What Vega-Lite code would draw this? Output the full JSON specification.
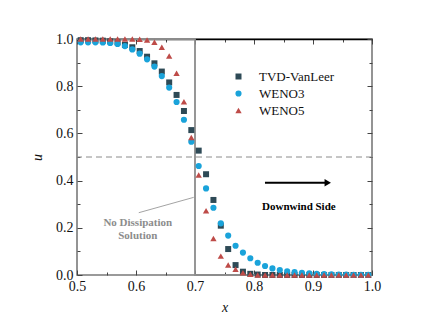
{
  "$schema": "https://vega.github.io/schema/vega-lite/v6.json",
  "width": 295,
  "height": 236,
  "autosize": "none",
  "padding": {"left": 77, "top": 39, "right": 59, "bottom": 55},
  "background": "white",
  "config": {
    "font": "'Liberation Serif', 'Times New Roman', serif",
    "view": {"stroke": "#7a7a7a", "strokeWidth": 1.6},
    "axis": {"grid": false, "domain": false, "labelFlush": false, "labelOverlap": false, "labelFont": "'Liberation Serif', 'Times New Roman', serif", "labelFontSize": 14, "labelColor": "#111111", "tickColor": "#444444", "titleFont": "'Liberation Serif', 'Times New Roman', serif", "titleFontSize": 14, "titleFontStyle": "italic", "titleFontWeight": "normal", "titleColor": "#111111"},
    "legend": {"labelFont": "'Liberation Serif', 'Times New Roman', serif"},
    "text": {"font": "'Liberation Serif', 'Times New Roman', serif"}
  },
  "datasets": {
    "pts": [
      {"x":0.50625,"u":0.995,"s":"TVD-VanLeer"},{"x":0.51875,"u":0.995,"s":"TVD-VanLeer"},{"x":0.53125,"u":0.994,"s":"TVD-VanLeer"},{"x":0.54375,"u":0.993,"s":"TVD-VanLeer"},{"x":0.55625,"u":0.99,"s":"TVD-VanLeer"},{"x":0.56875,"u":0.986,"s":"TVD-VanLeer"},{"x":0.58125,"u":0.975,"s":"TVD-VanLeer"},{"x":0.59375,"u":0.965,"s":"TVD-VanLeer"},{"x":0.60625,"u":0.949,"s":"TVD-VanLeer"},{"x":0.61875,"u":0.925,"s":"TVD-VanLeer"},{"x":0.63125,"u":0.897,"s":"TVD-VanLeer"},{"x":0.64375,"u":0.862,"s":"TVD-VanLeer"},{"x":0.65625,"u":0.816,"s":"TVD-VanLeer"},{"x":0.66875,"u":0.763,"s":"TVD-VanLeer"},{"x":0.68125,"u":0.695,"s":"TVD-VanLeer"},{"x":0.69375,"u":0.614,"s":"TVD-VanLeer"},{"x":0.70625,"u":0.527,"s":"TVD-VanLeer"},{"x":0.71875,"u":0.427,"s":"TVD-VanLeer"},{"x":0.73125,"u":0.318,"s":"TVD-VanLeer"},{"x":0.74375,"u":0.209,"s":"TVD-VanLeer"},{"x":0.75625,"u":0.11,"s":"TVD-VanLeer"},{"x":0.76875,"u":0.042,"s":"TVD-VanLeer"},{"x":0.78125,"u":0.014,"s":"TVD-VanLeer"},{"x":0.79375,"u":0.005,"s":"TVD-VanLeer"},{"x":0.80625,"u":0.002,"s":"TVD-VanLeer"},{"x":0.81875,"u":0,"s":"TVD-VanLeer"},{"x":0.83125,"u":0,"s":"TVD-VanLeer"},{"x":0.84375,"u":0,"s":"TVD-VanLeer"},{"x":0.85625,"u":0,"s":"TVD-VanLeer"},{"x":0.86875,"u":0,"s":"TVD-VanLeer"},{"x":0.88125,"u":0,"s":"TVD-VanLeer"},{"x":0.89375,"u":0,"s":"TVD-VanLeer"},{"x":0.90625,"u":0,"s":"TVD-VanLeer"},{"x":0.91875,"u":0,"s":"TVD-VanLeer"},{"x":0.93125,"u":0,"s":"TVD-VanLeer"},{"x":0.94375,"u":0,"s":"TVD-VanLeer"},{"x":0.95625,"u":0,"s":"TVD-VanLeer"},{"x":0.96875,"u":0,"s":"TVD-VanLeer"},{"x":0.98125,"u":0,"s":"TVD-VanLeer"},{"x":0.99375,"u":0,"s":"TVD-VanLeer"},
      {"x":0.50625,"u":0.986,"s":"WENO3"},{"x":0.51875,"u":0.986,"s":"WENO3"},{"x":0.53125,"u":0.986,"s":"WENO3"},{"x":0.54375,"u":0.985,"s":"WENO3"},{"x":0.55625,"u":0.983,"s":"WENO3"},{"x":0.56875,"u":0.979,"s":"WENO3"},{"x":0.58125,"u":0.97,"s":"WENO3"},{"x":0.59375,"u":0.956,"s":"WENO3"},{"x":0.60625,"u":0.938,"s":"WENO3"},{"x":0.61875,"u":0.914,"s":"WENO3"},{"x":0.63125,"u":0.883,"s":"WENO3"},{"x":0.64375,"u":0.843,"s":"WENO3"},{"x":0.65625,"u":0.794,"s":"WENO3"},{"x":0.66875,"u":0.733,"s":"WENO3"},{"x":0.68125,"u":0.658,"s":"WENO3"},{"x":0.69375,"u":0.565,"s":"WENO3"},{"x":0.70625,"u":0.462,"s":"WENO3"},{"x":0.71875,"u":0.367,"s":"WENO3"},{"x":0.73125,"u":0.285,"s":"WENO3"},{"x":0.74375,"u":0.219,"s":"WENO3"},{"x":0.75625,"u":0.167,"s":"WENO3"},{"x":0.76875,"u":0.124,"s":"WENO3"},{"x":0.78125,"u":0.095,"s":"WENO3"},{"x":0.79375,"u":0.071,"s":"WENO3"},{"x":0.80625,"u":0.052,"s":"WENO3"},{"x":0.81875,"u":0.038,"s":"WENO3"},{"x":0.83125,"u":0.028,"s":"WENO3"},{"x":0.84375,"u":0.021,"s":"WENO3"},{"x":0.85625,"u":0.016,"s":"WENO3"},{"x":0.86875,"u":0.012,"s":"WENO3"},{"x":0.88125,"u":0.009,"s":"WENO3"},{"x":0.89375,"u":0.007,"s":"WENO3"},{"x":0.90625,"u":0.005,"s":"WENO3"},{"x":0.91875,"u":0.004,"s":"WENO3"},{"x":0.93125,"u":0.003,"s":"WENO3"},{"x":0.94375,"u":0.002,"s":"WENO3"},{"x":0.95625,"u":0.002,"s":"WENO3"},{"x":0.96875,"u":0.001,"s":"WENO3"},{"x":0.98125,"u":0.001,"s":"WENO3"},{"x":0.99375,"u":0.001,"s":"WENO3"},
      {"x":0.50625,"u":1.0,"s":"WENO5"},{"x":0.51875,"u":1.0,"s":"WENO5"},{"x":0.53125,"u":1.0,"s":"WENO5"},{"x":0.54375,"u":1.0,"s":"WENO5"},{"x":0.55625,"u":1.0,"s":"WENO5"},{"x":0.56875,"u":1.0,"s":"WENO5"},{"x":0.58125,"u":1.0,"s":"WENO5"},{"x":0.59375,"u":1.0,"s":"WENO5"},{"x":0.60625,"u":0.999,"s":"WENO5"},{"x":0.61875,"u":0.996,"s":"WENO5"},{"x":0.63125,"u":0.986,"s":"WENO5"},{"x":0.64375,"u":0.965,"s":"WENO5"},{"x":0.65625,"u":0.928,"s":"WENO5"},{"x":0.66875,"u":0.855,"s":"WENO5"},{"x":0.68125,"u":0.734,"s":"WENO5"},{"x":0.69375,"u":0.583,"s":"WENO5"},{"x":0.70625,"u":0.424,"s":"WENO5"},{"x":0.71875,"u":0.272,"s":"WENO5"},{"x":0.73125,"u":0.155,"s":"WENO5"},{"x":0.74375,"u":0.08,"s":"WENO5"},{"x":0.75625,"u":0.042,"s":"WENO5"},{"x":0.76875,"u":0.024,"s":"WENO5"},{"x":0.78125,"u":0.01,"s":"WENO5"},{"x":0.79375,"u":0.003,"s":"WENO5"},{"x":0.80625,"u":0,"s":"WENO5"},{"x":0.81875,"u":0,"s":"WENO5"},{"x":0.83125,"u":0,"s":"WENO5"},{"x":0.84375,"u":0,"s":"WENO5"},{"x":0.85625,"u":0,"s":"WENO5"},{"x":0.86875,"u":0,"s":"WENO5"},{"x":0.88125,"u":0,"s":"WENO5"},{"x":0.89375,"u":0,"s":"WENO5"},{"x":0.90625,"u":0,"s":"WENO5"},{"x":0.91875,"u":0,"s":"WENO5"},{"x":0.93125,"u":0,"s":"WENO5"},{"x":0.94375,"u":0,"s":"WENO5"},{"x":0.95625,"u":0,"s":"WENO5"},{"x":0.96875,"u":0,"s":"WENO5"},{"x":0.98125,"u":0,"s":"WENO5"},{"x":0.99375,"u":0,"s":"WENO5"}
    ],
    "step": [
      {"x":0.5,"u":1,"o":1},{"x":0.7,"u":1,"o":2},{"x":0.7,"u":0,"o":3},{"x":1.0,"u":0,"o":4}
    ]
  },
  "layer": [
    {
      "data": {"name": "step"},
      "mark": {"type": "line", "color": "#8c8c8c", "strokeWidth": 1.8, "clip": false},
      "encoding": {
        "x": {"field": "x", "type": "quantitative", "scale": {"domain": [0.5, 1.0], "nice": false, "zero": false},
              "axis": {"orient": "bottom", "title": "x", "titlePadding": 5, "values": [0.5,0.55,0.6,0.65,0.7,0.75,0.8,0.85,0.9,0.95,1.0],
                       "tickSize": {"condition": {"test": "abs(round(datum.value*10)-datum.value*10)<0.001", "value": -5}, "value": -3},
                       "labelPadding": 9, "labelExpr": "abs(round(datum.value*10)-datum.value*10)<0.001 ? format(datum.value,'.1f') : ''"}},
        "y": {"field": "u", "type": "quantitative", "scale": {"domain": [0, 1.0], "nice": false},
              "axis": {"orient": "left", "title": "u", "titlePadding": 11, "values": [0,0.1,0.2,0.3,0.4,0.5,0.6,0.7,0.8,0.9,1.0],
                       "tickSize": {"condition": {"test": "abs(round(datum.value*5)-datum.value*5)<0.001", "value": -5}, "value": -3},
                       "labelPadding": 9, "labelExpr": "abs(round(datum.value*5)-datum.value*5)<0.001 ? format(datum.value,'.1f') : ''"}},
        "order": {"field": "o", "type": "quantitative"}
      }
    },
    {
      "data": {"values": [{"u": 0.5}]},
      "mark": {"type": "rule", "color": "#8c8c8c", "strokeWidth": 1, "strokeDash": [6, 4]},
      "encoding": {"y": {"field": "u", "type": "quantitative", "axis": null}}
    },
    {
      "data": {"values": [{"x": 0.6047, "u": 0.264, "x2": 0.6978, "u2": 0.329}]},
      "mark": {"type": "rule", "color": "#8c8c8c", "strokeWidth": 0.8},
      "encoding": {
        "x": {"field": "x", "type": "quantitative", "axis": null},
        "y": {"field": "u", "type": "quantitative", "axis": null},
        "x2": {"field": "x2"}, "y2": {"field": "u2"}
      }
    },
    {
      "data": {"values": [{"x": 0.603, "u": 0.222, "t": "No Dissipation"}, {"x": 0.603, "u": 0.167, "t": "Solution"}]},
      "mark": {"type": "text", "font": "'Liberation Serif', 'Times New Roman', serif", "fontSize": 11, "fontWeight": "bold", "color": "#8c8c8c", "align": "center", "baseline": "middle"},
      "encoding": {
        "x": {"field": "x", "type": "quantitative", "axis": null},
        "y": {"field": "u", "type": "quantitative", "axis": null},
        "text": {"field": "t"}
      }
    },
    {
      "data": {"values": [{"x": 0.8186, "u": 0.391, "x2": 0.922}]},
      "mark": {"type": "rule", "color": "#000000", "strokeWidth": 2},
      "encoding": {
        "x": {"field": "x", "type": "quantitative", "axis": null},
        "x2": {"field": "x2"},
        "y": {"field": "u", "type": "quantitative", "axis": null}
      }
    },
    {
      "data": {"values": [{"x": 0.925, "u": 0.391}]},
      "mark": {"type": "point", "shape": "triangle-right", "filled": true, "color": "#000000", "size": 55, "opacity": 1},
      "encoding": {
        "x": {"field": "x", "type": "quantitative", "axis": null},
        "y": {"field": "u", "type": "quantitative", "axis": null}
      }
    },
    {
      "data": {"values": [{"x": 0.876, "u": 0.289, "t": "Downwind Side"}]},
      "mark": {"type": "text", "font": "'Liberation Serif', 'Times New Roman', serif", "fontSize": 11, "fontWeight": "bold", "color": "#000000", "align": "center", "baseline": "middle"},
      "encoding": {
        "x": {"field": "x", "type": "quantitative", "axis": null},
        "y": {"field": "u", "type": "quantitative", "axis": null},
        "text": {"field": "t"}
      }
    },
    {
      "data": {"name": "pts"},
      "mark": {"type": "point", "filled": true, "opacity": 1},
      "encoding": {
        "x": {"field": "x", "type": "quantitative",
              "axis": {"orient": "top", "title": null, "labels": false, "domain": true, "domainColor": "#000000", "domainWidth": 1.6, "values": [0.5,0.55,0.6,0.65,0.7,0.75,0.8,0.85,0.9,0.95,1.0],
                       "tickSize": {"condition": {"test": "abs(round(datum.value*10)-datum.value*10)<0.001", "value": -5}, "value": -3}}},
        "y": {"field": "u", "type": "quantitative",
              "axis": {"orient": "right", "title": null, "labels": false, "values": [0,0.1,0.2,0.3,0.4,0.5,0.6,0.7,0.8,0.9,1.0],
                       "tickSize": {"condition": {"test": "abs(round(datum.value*5)-datum.value*5)<0.001", "value": -5}, "value": -3}}},
        "color": {"field": "s", "type": "nominal", "scale": {"domain": ["TVD-VanLeer", "WENO3", "WENO5"], "range": ["#2e4a56", "#1aa3da", "#be4b48"]},
                  "legend": {"orient": "none", "legendX": 155, "legendY": 31, "title": null, "padding": 0, "labelFont": "'Liberation Serif', 'Times New Roman', serif", "labelFontSize": 13, "labelColor": "#111111", "labelOffset": 14, "rowPadding": 3}},
        "shape": {"field": "s", "type": "nominal", "scale": {"domain": ["TVD-VanLeer", "WENO3", "WENO5"], "range": ["square", "circle", "triangle-up"]}},
        "size": {"field": "s", "type": "nominal", "scale": {"domain": ["TVD-VanLeer", "WENO3", "WENO5"], "range": [36, 40, 62]}, "legend": null}
      }
    }
  ],
  "resolve": {"axis": {"x": "independent", "y": "independent"}}
}
